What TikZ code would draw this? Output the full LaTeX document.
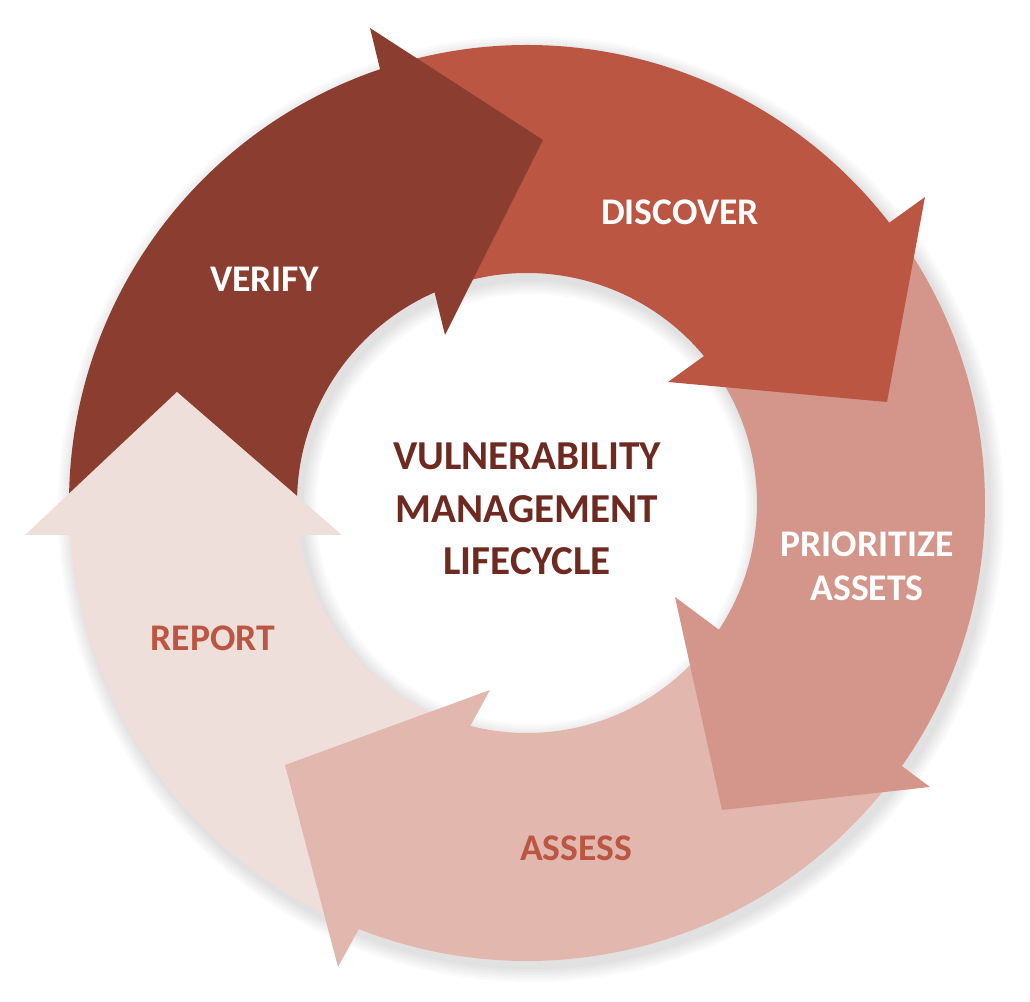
\documentclass[tikz,border=0pt]{standalone}
\usepackage{fontspec}
\setmainfont{Carlito}
\usepackage{xcolor}
\usepackage{tikz}

\definecolor{verifyc}{HTML}{8B3E2F}
\definecolor{discoverc}{HTML}{BA5641}
\definecolor{prioc}{HTML}{D4968A}
\definecolor{assessc}{HTML}{E1B7AE}
\definecolor{reportc}{HTML}{EFDFDA}
\definecolor{titlec}{HTML}{6E2A20}

\begin{document}
\begin{tikzpicture}[
    lbl/.style={font=\bfseries\fontsize{10.7}{12.6}\selectfont, align=center, inner sep=0pt},
    title/.style={font=\bfseries\fontsize{11.7}{14.9}\selectfont, align=center, inner sep=0pt, text=titlec}
  ]
\useasboundingbox (-5.27,-4.99) rectangle (5.03,5.03);
% soft shadow of the ring
\foreach \s in {1,...,6}
  \fill[black, opacity=0.02, even odd rule, shift={(0.04,-0.06)}]
    (0,0) circle ({4.58+0.025*\s}) (0,0) circle ({2.30-0.025*\s});
% ring bodies
\foreach \a/\b/\c in {181.5/106.5/verifyc, 106.5/35/discoverc, 35/-37.5/prioc, -37.5/-113/assessc, -113/-178.5/reportc}
  \fill[\c] (\a:4.58) arc[start angle=\a, end angle=\b, radius=4.58]
    -- (\b:2.30) arc[start angle=\b, end angle=\a, radius=2.30] -- cycle;
% arrow heads
\fill[verifyc] (-1.57,4.75) -- (0.16,3.63) -- (-0.82,1.68) -- cycle;
\fill[discoverc] (3.98,3.06) -- (3.60,1.01) -- (1.41,1.21) -- cycle;
\fill[prioc] (4.03,-2.84) -- (1.95,-3.07) -- (1.48,-0.94) -- cycle;
\fill[assessc] (-1.89,-4.64) -- (-2.42,-2.62) -- (-0.37,-1.87) -- cycle;
\fill[reportc] (-5.02,-0.32) -- (-3.50,1.11) -- (-1.85,-0.32) -- cycle;
% labels
\node[lbl, text=white] (verify) at (-2.625,2.24) {VERIFY};
\node[lbl, text=white] (discover) at (1.53,2.91) {DISCOVER};
\node[lbl, text=white] (prio) at (3.40,-0.63) {PRIORITIZE\\ASSETS};
\node[lbl, text=discoverc] (assess) at (0.49,-3.45) {ASSESS};
\node[lbl, text=discoverc] (report) at (-3.14,-1.35) {REPORT};
\node[title] (cycle) at (0,-0.06) {VULNERABILITY\\MANAGEMENT\\LIFECYCLE};
\end{tikzpicture}
\end{document}
